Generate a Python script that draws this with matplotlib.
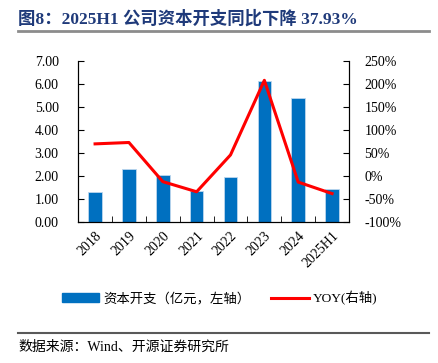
import matplotlib.pyplot as plt
from matplotlib.lines import Line2D
import numpy as np

plt.rcParams['font.family'] = ['Liberation Serif', 'Noto Sans CJK SC']

years = ["2018", "2019", "2020", "2021", "2022", "2023", "2024", "2025H1"]
capex = [1.31, 2.30, 2.04, 1.36, 1.98, 6.13, 5.38, 1.44]
yoy = [70, 73, -12, -34, 46, 208, -13, -38]

fig = plt.figure(figsize=(4.39, 3.63), dpi=100)
ax = fig.add_axes([0.178, 0.388, 0.617, 0.444])
x = np.arange(len(years))

ax.bar(x, capex, width=0.4, color="#0070C0", edgecolor="#BDD7EE", linewidth=0.6,
       label="资本开支（亿元，左轴）", zorder=2)
ax.set_ylim(0, 7)
ax.set_yticks(np.arange(0, 7.01, 1))
ax.set_yticklabels([f"{v:.2f}" for v in np.arange(0, 7.01, 1)], fontsize=10)
ax.set_xlim(-0.5, len(years) - 0.5)
ax.set_xticks(x)
ax.set_xticklabels(years, rotation=45, ha="right", rotation_mode="anchor", fontsize=10)
ax.tick_params(axis="x", length=0, pad=5)
ax.set_xticks(np.arange(0.5, len(years) - 1, 1), minor=True)
ax.tick_params(axis="x", which="minor", direction="in", length=4)
ax.tick_params(axis="y", direction="in", length=4, pad=14)

ax2 = ax.twinx()
ax2.plot(x, yoy, color="#FF0000", linewidth=2.2, label="YOY(右轴)", zorder=3)
ax2.set_ylim(-100, 250)
ax2.set_yticks(np.arange(-100, 251, 50))
ax2.set_yticklabels([f"{v}%" for v in range(-100, 251, 50)], fontsize=10)
ax2.tick_params(axis="y", direction="in", length=4, pad=11)

for a in (ax, ax2):
    a.spines["top"].set_visible(False)
    for s in ("left", "right", "bottom"):
        a.spines[s].set_linewidth(0.8)

handles = [plt.Rectangle((0, 0), 1, 1, color="#0070C0"),
           Line2D([0], [0], color="#FF0000", linewidth=2.2)]
fig.legend(handles, ["资本开支（亿元，左轴）", "YOY(右轴)"], loc="center",
           bbox_to_anchor=(0.5, 0.178), ncol=2, frameon=False, fontsize=9.6,
           handlelength=2.8, handletextpad=0.3, columnspacing=1.6)

fig.text(0.041, 0.948, "图8：2025H1 公司资本开支同比下降 37.93%", fontsize=12.5,
         fontweight="bold", color="#1F3A7A", va="center", ha="left")
fig.add_artist(Line2D([0.041, 0.977], [0.915, 0.915], color="#8C8C8C", linewidth=2))
fig.add_artist(Line2D([0.041, 0.977], [0.083, 0.083], color="#595959", linewidth=1.5))
fig.text(0.041, 0.044, "数据来源：Wind、开源证券研究所", fontsize=10, color="#000000",
         va="center", ha="left")

fig.savefig("out.png", dpi=100)
